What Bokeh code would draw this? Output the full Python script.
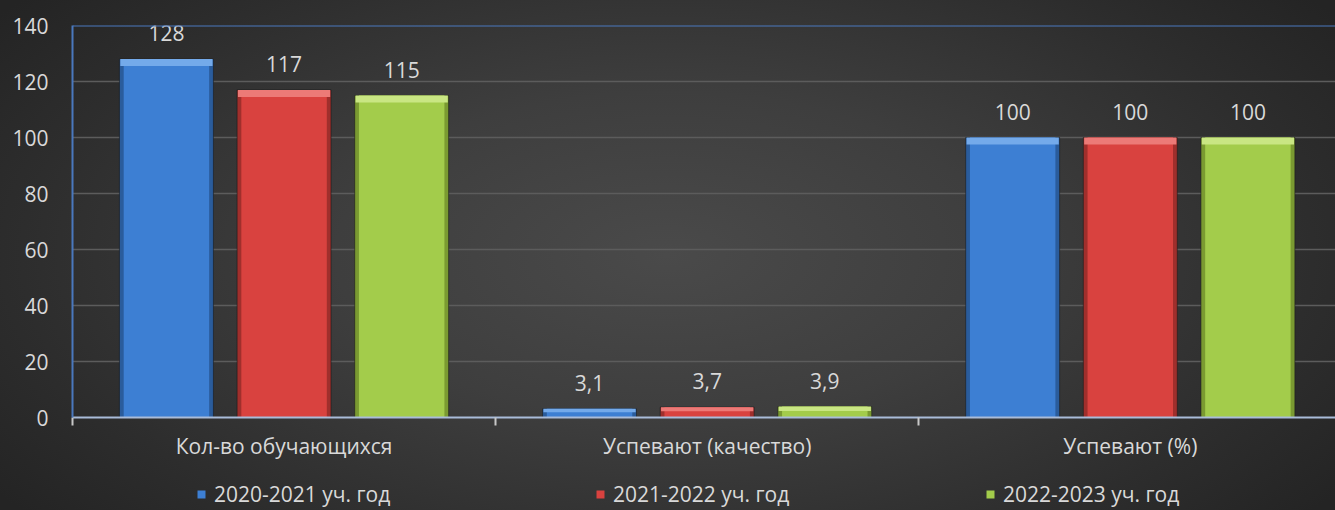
from bokeh.plotting import figure
from bokeh.layouts import column
from bokeh.models import (Range1d, FixedTicker, Span, Legend, LegendItem,
                          GlobalInlineStyleSheet, ColumnDataSource)
from bokeh.core.properties import value
from bokeh.embed import file_html
from bokeh.resources import INLINE

# ---------------- data ----------------
categories = ["Кол-во обучающихся", "Успевают (качество)", "Успевают (%)"]
series_names = ["2020-2021 уч. год", "2021-2022 уч. год", "2022-2023 уч. год"]
values_2020_2021 = [128, 3.1, 100]
values_2021_2022 = [117, 3.7, 100]
values_2022_2023 = [115, 3.9, 100]
y_ticks = [0, 20, 40, 60, 80, 100, 120, 140]

series_values = [values_2020_2021, values_2021_2022, values_2022_2023]

# ---------------- style ----------------
FONT = "Open Sans"
FS = "21px"
TEXT = "#d9d9d9"
# (edge, body, highlight)
palette = [
    ("#2a5c9c", "#3d7fd3", "#74aaea"),
    ("#a02f2c", "#d9423f", "#ec7a77"),
    ("#7a9a31", "#a3cc4b", "#c9e683"),
]
offsets = [-0.278, 0.0, 0.278]
BAR_W = 0.222
legend_x = [124, 523, 913]   # pixel offsets of the legend entries from the frame's left edge

BG = ("radial-gradient(ellipse 62% 80% at 50% 50%, #4a4a4a 0%, #3e3e3e 40%, "
      "#2d2d2d 78%, #242424 100%)")


def fmt(v):
    s = ("%g" % v)
    return s.replace(".", ",")


p = figure(width=1335, height=470, output_backend="svg", toolbar_location=None,
           x_range=Range1d(0, 2.985), y_range=Range1d(0, 140),
           min_border_left=72, min_border_top=25, min_border_right=0,
           min_border_bottom=53)

p.stylesheets = [GlobalInlineStyleSheet(
    css="html,body{margin:0;padding:0;height:100%;overflow:hidden;"
        "background:" + BG + ";}")]
p.background_fill_alpha = 0
p.border_fill_alpha = 0
p.outline_line_alpha = 0

# axes
xa = p.xaxis[0]
xa.ticker = FixedTicker(ticks=[i + 0.5 for i in range(len(categories))],
                        minor_ticks=list(range(len(categories) + 1)))
xa.major_label_overrides = {i + 0.5: c for i, c in enumerate(categories)}
xa.major_tick_out = 0
xa.major_tick_in = 0
xa.minor_tick_out = 8
xa.minor_tick_in = 0
xa.minor_tick_line_color = "#c8c8c8"
xa.minor_tick_line_width = 2
xa.axis_line_color = "#a9bcd9"
xa.axis_line_width = 2
xa.major_label_standoff = 6
xa.major_label_text_font = FONT
xa.major_label_text_font_size = FS
xa.major_label_text_color = TEXT

ya = p.yaxis[0]
ya.ticker = FixedTicker(ticks=y_ticks)
ya.major_tick_out = 0
ya.major_tick_in = 0
ya.minor_tick_out = 0
ya.minor_tick_in = 0
ya.axis_line_color = "#4a78bd"
ya.axis_line_width = 2
ya.major_label_standoff = 24
ya.major_label_text_font = FONT
ya.major_label_text_font_size = FS
ya.major_label_text_color = TEXT

p.xgrid.visible = False
p.ygrid.ticker = FixedTicker(ticks=y_ticks)
p.ygrid.grid_line_color = "#5c5c5c"
p.ygrid.grid_line_width = 1.5

p.add_layout(Span(location=y_ticks[-1], dimension="width",
                  line_color="#4a78bd", line_width=2))

sources = []
for j, (name, vals) in enumerate(zip(series_names, series_values)):
    edge, body, hi = palette[j]
    xs = [i + 0.5 + offsets[j] for i in range(len(categories))]
    src = ColumnDataSource(dict(
        x=xs,
        top=vals,
        bevel=[v - min(2.5, v * 0.4) for v in vals],
        label=[fmt(v) for v in vals],
    ))
    sources.append(src)
    p.vbar(x="x", top="top", bottom=0, width=BAR_W, source=src,
           fill_color=edge, line_color="#1a1a1a", line_alpha=0.6, line_width=1)
    p.vbar(x="x", top="top", bottom=0, width=BAR_W - 0.02, source=src,
           fill_color=body, line_alpha=0)
    p.vbar(x="x", top="top", bottom="bevel", width=BAR_W - 0.004, source=src,
           fill_color=hi, line_alpha=0)
    p.text(x="x", y="top", text="label", source=src, text_align="center",
           text_baseline="middle", y_offset=-26, text_font=value(FONT),
           text_font_size=FS, text_color=TEXT)

# ---------------- legend strip (zero-width bars out of view; only the swatches show) ----------------
pl = figure(width=1335, height=40, output_backend="svg", toolbar_location=None,
            x_axis_type=None, y_axis_type=None,
            x_range=Range1d(0, 2.985), y_range=Range1d(1000, 1001),
            min_border=0)
pl.background_fill_alpha = 0
pl.border_fill_alpha = 0
pl.outline_line_alpha = 0
pl.grid.visible = False

for j, name in enumerate(series_names):
    edge, body, hi = palette[j]
    r = pl.vbar(x="x", top="top", bottom=0, width=0, source=sources[j],
                fill_color=body, line_alpha=0)
    lg = Legend(items=[LegendItem(label=name, renderers=[r])],
                location=(legend_x[j], 2), glyph_width=10, glyph_height=10,
                label_standoff=8, label_text_font=FONT,
                label_text_font_size=FS, label_text_color=TEXT,
                background_fill_alpha=0, border_line_alpha=0,
                padding=0, margin=0)
    pl.add_layout(lg)

layout = column(p, pl, spacing=0)
open("out.html", "w").write(file_html(layout, INLINE))
